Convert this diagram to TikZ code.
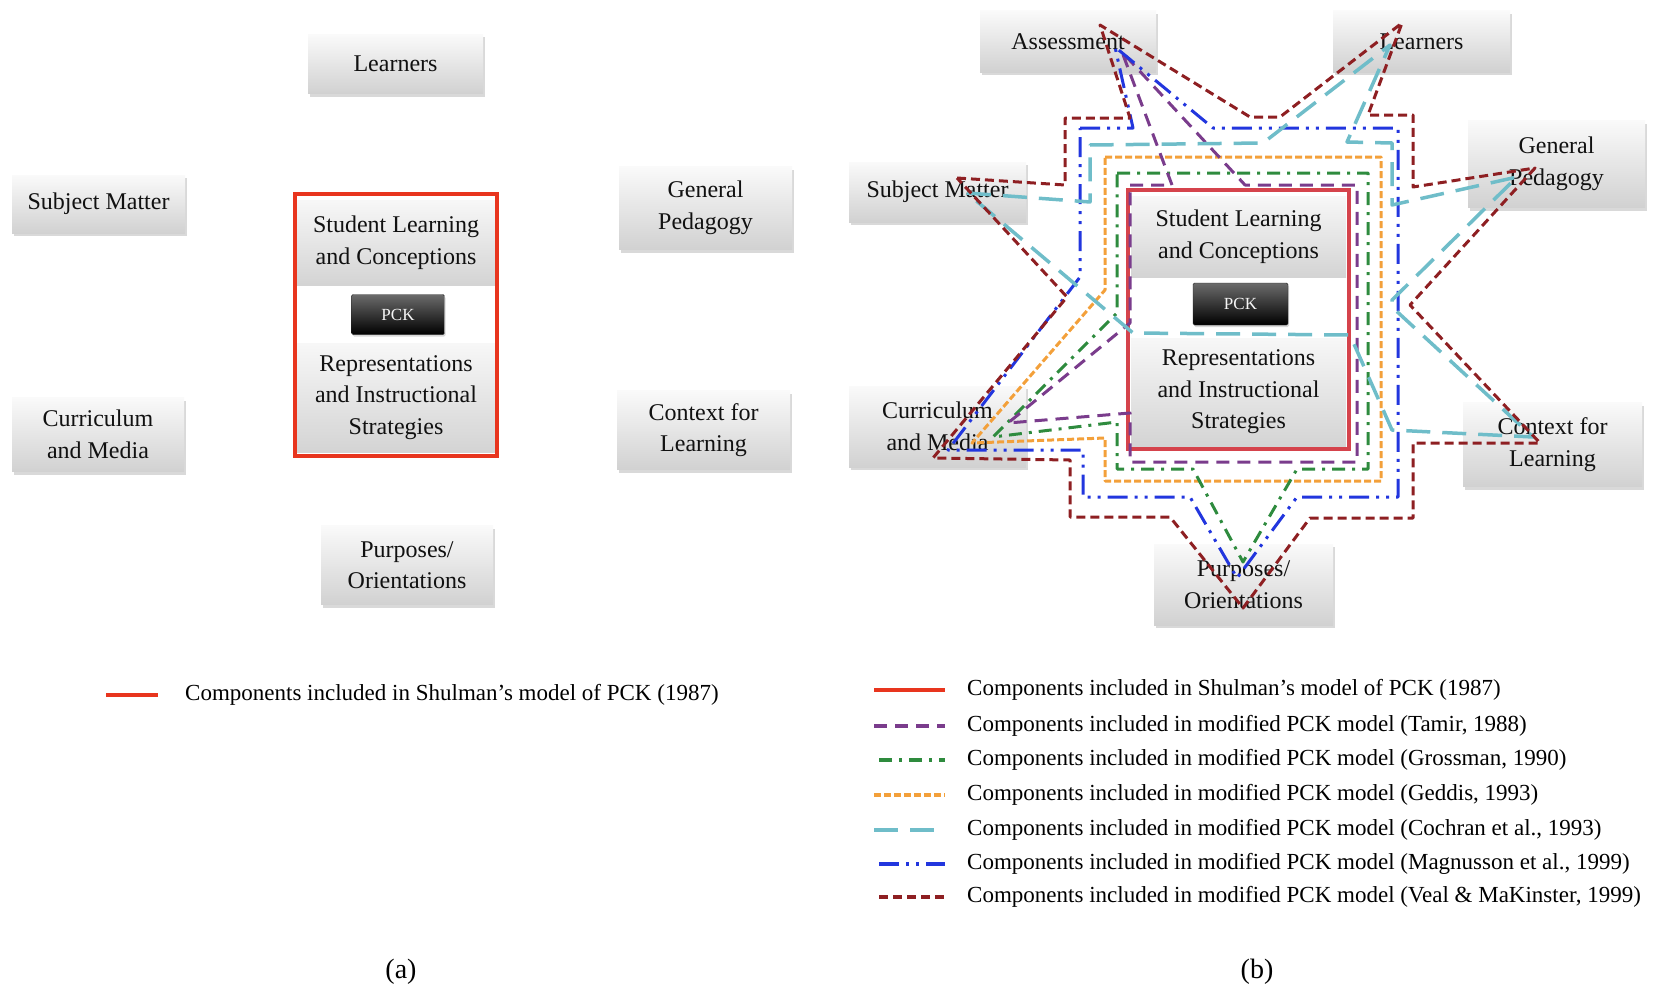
\documentclass[tikz,border=0pt]{standalone}
\usepackage{fontspec}
\setmainfont{Liberation Serif}
\usetikzlibrary{shadows}

\definecolor{shulred}{HTML}{E8351E}
\definecolor{shulredb}{HTML}{D5434C}
\definecolor{tamircol}{HTML}{7A3C8C}
\definecolor{grosscol}{HTML}{2E8B3E}
\definecolor{geddcol}{HTML}{F3A03A}
\definecolor{cochcol}{HTML}{6FBDC9}
\definecolor{magncol}{HTML}{2236DE}
\definecolor{vealcol}{HTML}{8E1F22}
\definecolor{inktext}{HTML}{111111}

\tikzset{
  comp/.style={rectangle, minimum width=175pt, minimum height=60pt,
    top color=gray!4, bottom color=gray!36, align=center, inner sep=0pt,
    text=inktext, font=\fontsize{24}{31.5}\selectfont,
    drop shadow={shadow xshift=2pt, shadow yshift=-3pt, opacity=0.3, fill=gray}},
  panel/.style={rectangle, top color=gray!6, bottom color=gray!34,
    align=center, inner sep=0pt, text=inktext,
    font=\fontsize{24}{31.5}\selectfont},
  pckbox/.style={rectangle, rounded corners=1.5pt, minimum width=93pt,
    minimum height=40pt, top color=black!58, bottom color=black,
    draw=black!85, text=white!92!gray, inner sep=0pt,
    font=\fontsize{17}{18}\selectfont,
    drop shadow={shadow xshift=1pt, shadow yshift=-2pt, opacity=0.3, fill=gray}},
  corebox/.style={rectangle, fill=white, inner sep=0pt},
  legtext/.style={anchor=west, inner sep=0pt, text=black,
    font=\fontsize{23}{27}\selectfont},
  captext/.style={inner sep=0pt, font=\fontsize{28}{30}\selectfont},
  model/.style={line width=3pt, line join=round},
  shulman/.style={draw=shulred, line width=4.5pt},
  tamir/.style={model, draw=tamircol, dash pattern=on 13pt off 8pt},
  grossman/.style={model, draw=grosscol, dash pattern=on 13pt off 7pt on 3pt off 7pt},
  geddis/.style={model, draw=geddcol, dash pattern=on 7pt off 3pt},
  cochran/.style={model, draw=cochcol, line width=3.5pt, dash pattern=on 24pt off 12pt},
  magnusson/.style={model, draw=magncol, dash pattern=on 20pt off 7pt on 3pt off 7pt on 3pt off 7pt},
  veal/.style={model, draw=vealcol, dash pattern=on 9pt off 5pt},
  legline/.style={line width=4.5pt}
}

\begin{document}
\begin{tikzpicture}[x=1pt, y=-1pt]
\useasboundingbox (0,0) rectangle (1656,990);

% ---------------- (a) Shulman's model ----------------
\node[comp, minimum height=59pt] (aLearn) at (395.5,64) {Learners};
\node[comp, minimum width=173pt, minimum height=58pt] (aSubj) at (98.5,204) {Subject Matter};
\node[comp, minimum width=173pt, minimum height=83pt] (aPed) at (705.5,208) {General\\Pedagogy};
\node[comp, minimum width=172pt, minimum height=74pt] (aCurr) at (98,434.5) {Curriculum\\and Media};
\node[comp, minimum width=173pt, minimum height=79pt] (aCtx) at (703.5,430) {Context for\\Learning};
\node[comp, minimum width=172pt, minimum height=79pt] (aPurp) at (407,565) {Purposes/\\Orientations};

\node[corebox, minimum width=202pt, minimum height=262pt] (aCore) at (396,325) {};
\node[panel, minimum width=198pt, minimum height=85pt] (aSLC) at (396,242.5) {Student Learning\\and Conceptions};
\node[pckbox] (aPCK) at (398,314.5) {PCK};
\node[panel, minimum width=198pt, minimum height=109pt] (aRIS) at (396,397.5) {Representations\\and Instructional\\Strategies};
\draw[draw=shulred, line width=3.5pt] (aCore.north west) rectangle (aCore.south east);

% legend (a)
\node[legtext] (legA) at (185,695) {Components included in Shulman’s model of PCK (1987)};
\draw[shulman] ([xshift=-79pt]legA.west) -- ([xshift=-27pt]legA.west);

\node[captext] (capA) at (401,972) {(a)};

% ---------------- (b) modified models ----------------
\node[comp, minimum width=176pt, minimum height=61pt] (bAss) at (1068,41.5) {Assessment};
\node[comp, minimum width=177pt, minimum height=61pt] (bLearn) at (1421.5,41.5) {Learners};
\node[comp, minimum width=177pt, minimum height=87pt] (bPed) at (1556.5,164) {General\\Pedagogy};
\node[comp, minimum width=177pt, minimum height=60pt] (bSubj) at (937.5,192) {Subject Matter};
\node[comp, minimum width=177pt, minimum height=81pt] (bCurr) at (937.5,426.5) {Curriculum\\and Media};
\node[comp, minimum width=179pt, minimum height=84pt] (bCtx) at (1552.5,444.5) {Context for\\Learning};
\node[comp, minimum width=179pt, minimum height=81pt] (bPurp) at (1243.5,584.5) {Purposes/\\Orientations};

\node[corebox, minimum width=221pt, minimum height=259pt] (bCore) at (1238.5,319.5) {};
\node[panel, minimum width=215pt, minimum height=81pt] (bSLC) at (1238.5,236.5) {Student Learning\\and Conceptions};
\node[pckbox, minimum width=95pt, minimum height=42pt] (bPCK) at (1240.5,304) {PCK};
\node[panel, minimum width=215pt, minimum height=108pt] (bRIS) at (1238.5,392) {Representations\\and Instructional\\Strategies};
\draw[draw=shulredb, line width=4pt] (bCore.north west) rectangle (bCore.south east);

% Geddis (1993)
\draw[geddis] (1105,157) -- (1381,157) -- (1381,481) -- (1105,481) -- (1105,438)
  -- (972,443) -- (1105,290) -- cycle;
% Grossman (1990)
\draw[grossman] (1117,173) -- (1368,173) -- (1368,469) -- (1297,469) -- (1243,562)
  -- (1193,469) -- (1117,469) -- (1117,422) -- (993,437) -- (1117,313) -- cycle;
% Tamir (1988)
\draw[tamir] (1130,185) -- (1172,185) -- (1122,52) -- (1245,185) -- (1357,185)
  -- (1357,462) -- (1130,462) -- (1130,413) -- (1008,423) -- (1130,323) -- cycle;
% Magnusson et al. (1999)
\draw[magnusson] (1080,128) -- (1133,128) -- (1115,47) -- (1213,128) -- (1398,128)
  -- (1398,497) -- (1297,497) -- (1237,578) -- (1190,497) -- (1083,497)
  -- (1083,450) -- (948,450) -- (1080,277) -- cycle;
% Cochran et al. (1993)
\draw[cochran] (967,193) -- (1090,202) -- (1090,145) -- (1263,143) -- (1390,45)
  -- (1347,142) -- (1392,143) -- (1392,205) -- (1517,177) -- (1392,300)
  -- (1392,307) -- (1533,437) -- (1392,430) -- (1350,335) -- (1133,333) -- cycle;
% Veal & MaKinster (1999)
\draw[veal] (957,178) -- (1065,185) -- (1065,118) -- (1130,118) -- (1100,25)
  -- (1250,117) -- (1280,117) -- (1402,23) -- (1368,115) -- (1413,115)
  -- (1413,187) -- (1535,168) -- (1410,305) -- (1540,443) -- (1413,443)
  -- (1413,518) -- (1310,518) -- (1243,608) -- (1170,517) -- (1070,517)
  -- (1070,460) -- (933,458) -- (1067,297) -- cycle;

% legend (b)
\node[legtext] (lb1) at (967,690) {Components included in Shulman’s model of PCK (1987)};
\node[legtext] (lb2) at (967,726) {Components included in modified PCK model (Tamir, 1988)};
\node[legtext] (lb3) at (967,760) {Components included in modified PCK model (Grossman, 1990)};
\node[legtext] (lb4) at (967,795) {Components included in modified PCK model (Geddis, 1993)};
\node[legtext] (lb5) at (967,830) {Components included in modified PCK model (Cochran et al., 1993)};
\node[legtext] (lb6) at (967,864) {Components included in modified PCK model (Magnusson et al., 1999)};
\node[legtext] (lb7) at (967,897) {Components included in modified PCK model (Veal \& MaKinster, 1999)};

\draw[shulman] ([xshift=-93pt]lb1.west) -- ([xshift=-22pt]lb1.west);
\draw[tamir, legline] ([xshift=-93pt]lb2.west) -- ([xshift=-22pt]lb2.west);
\draw[grossman, legline] ([xshift=-88pt]lb3.west) -- ([xshift=-22pt]lb3.west);
\draw[geddis, legline] ([xshift=-93pt]lb4.west) -- ([xshift=-22pt]lb4.west);
\draw[cochran, legline] ([xshift=-93pt]lb5.west) -- ([xshift=-22pt]lb5.west);
\draw[magnusson, legline] ([xshift=-88pt]lb6.west) -- ([xshift=-22pt]lb6.west);
\draw[veal, legline] ([xshift=-88pt]lb7.west) -- ([xshift=-22pt]lb7.west);

\node[captext] (capB) at (1257,972) {(b)};
\end{tikzpicture}
\end{document}
